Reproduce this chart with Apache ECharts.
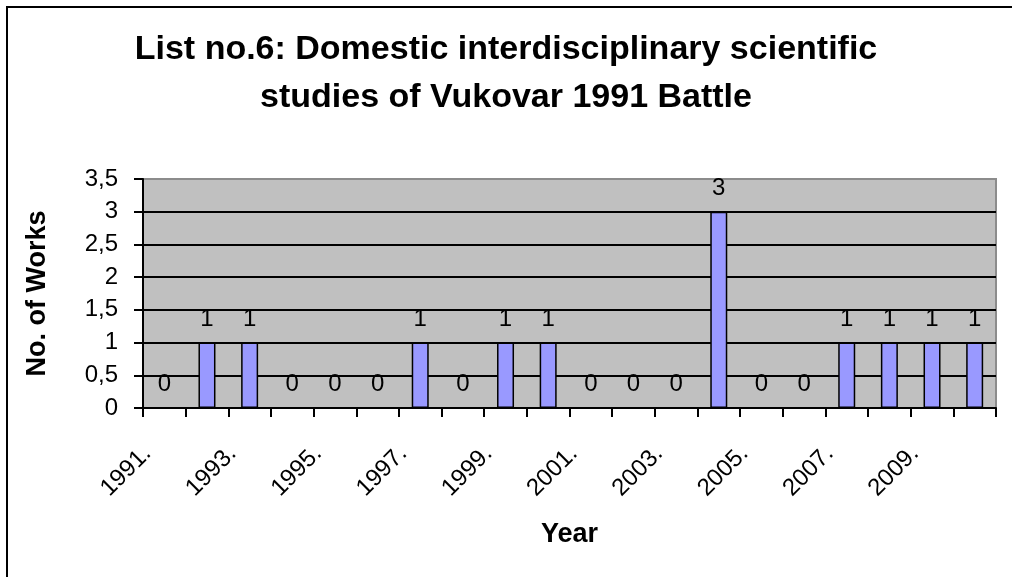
<!DOCTYPE html>
<html>
<head>
<meta charset="utf-8">
<title>List no.6</title>
<script src="https://cdn.jsdelivr.net/npm/echarts@6/dist/echarts.min.js"></script>
<style>
    html, body { margin: 0; padding: 0; background: #fff; }
    #chart { width: 1012px; height: 577px; }
</style>
</head>
<body>
<div id="chart"></div>
<script>
// data
var years = ['1991.', '1992.', '1993.', '1994.', '1995.', '1996.', '1997.', '1998.', '1999.', '2000.',
             '2001.', '2002.', '2003.', '2004.', '2005.', '2006.', '2007.', '2008.', '2009.', '2010.'];
var works = [0, 1, 1, 0, 0, 0, 1, 0, 1, 1, 0, 0, 0, 3, 0, 0, 1, 1, 1, 1];
var yTicks = { min: 0, max: 3.5, step: 0.5 };

var titleText = 'List no.6: Domestic interdisciplinary scientific\nstudies of Vukovar 1991 Battle';
var font = "'Liberation Sans', Arial, sans-serif";

(function () {
    var chart = echarts.init(document.getElementById('chart'));

    var option = {
        backgroundColor: '#fff',
        animation: false,
        textStyle: { fontFamily: font, color: '#000' },
        title: {
            text: titleText,
            left: 'center',
            top: 21,
            textStyle: {
                fontFamily: font,
                fontSize: 34,
                fontWeight: 'bold',
                color: '#000',
                lineHeight: 48
            }
        },
        // outer frame of the chart area (only top/left are in view)
        graphic: [{
            type: 'rect',
            shape: { x: 7, y: 7, width: 1100, height: 700 },
            style: { fill: null, stroke: '#000', lineWidth: 2 },
            silent: true
        }],
        grid: {
            left: 143,
            right: 16,
            top: 179,
            bottom: 169,
            show: true,
            backgroundColor: '#C0C0C0',
            borderColor: '#8c8c8c',
            borderWidth: 2
        },
        xAxis: {
            type: 'category',
            data: years,
            boundaryGap: true,
            name: 'Year',
            nameLocation: 'middle',
            nameGap: 113,
            nameTextStyle: { fontFamily: font, fontSize: 27, fontWeight: 'bold', color: '#000' },
            axisLine: { lineStyle: { color: '#000', width: 2 } },
            axisTick: { show: true, interval: 0, length: 9, alignWithLabel: false, lineStyle: { color: '#000', width: 2 } },
            axisLabel: {
                interval: 1,
                rotate: 45,
                margin: 25,
                padding: [0, 24, 0, 0],
                fontFamily: font,
                fontSize: 24,
                color: '#000',
                formatter: function (v) { return '{y|' + v + '}'; },
                rich: {
                    y: { fontFamily: font, fontSize: 24, color: '#000' }
                }
            },
            splitLine: { show: false }
        },
        yAxis: {
            type: 'value',
            min: yTicks.min,
            max: yTicks.max,
            interval: yTicks.step,
            name: 'No. of Works',
            nameLocation: 'middle',
            nameGap: 92,
            nameTextStyle: { fontFamily: font, fontSize: 27, fontWeight: 'bold', color: '#000' },
            axisLine: { show: true, lineStyle: { color: '#000', width: 2 } },
            axisTick: { show: true, length: 9, lineStyle: { color: '#000', width: 2 } },
            axisLabel: {
                margin: 25,
                fontFamily: font,
                fontSize: 24,
                color: '#000',
                formatter: function (v) { return String(v).replace('.', ','); }
            },
            splitLine: { show: true, showMaxLine: false, lineStyle: { color: '#000', width: 2 } }
        },
        series: [{
            type: 'bar',
            data: works,
            barWidth: 17,
            itemStyle: { color: '#9999FF', borderColor: '#000', borderWidth: 1.5 },
            label: {
                show: true,
                position: 'top',
                distance: 11,
                fontFamily: font,
                fontSize: 24,
                color: '#000'
            }
        }]
    };

    chart.setOption(option);
})();
</script>
</body>
</html>
